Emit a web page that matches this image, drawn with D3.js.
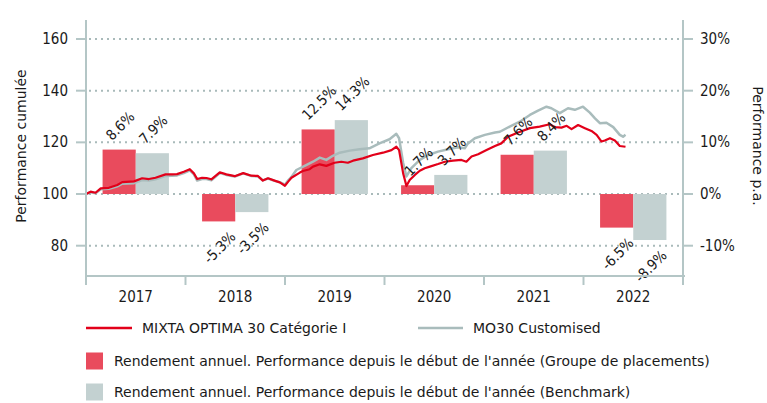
<!DOCTYPE html>
<html><head><meta charset="utf-8">
<script src="https://cdn.jsdelivr.net/npm/d3@7"></script>
<style>
html,body{margin:0;padding:0;background:#fff;}
svg{display:block;font-family:"DejaVu Sans",sans-serif;}
.cond{font-family:"DejaVu Sans Condensed","DejaVu Sans",sans-serif;font-stretch:condensed;}
</style></head>
<body><svg id="c" width="767" height="403"></svg>
<script>
const years = ["2017","2018","2019","2020","2021","2022"];
const fundAnnual = [8.6, -5.3, 12.5, 1.7, 7.6, -6.5];
const benchAnnual = [7.9, -3.5, 14.3, 3.7, 8.4, -8.9];
const leftTicks = [80, 100, 120, 140, 160];
const rightTicks = [-10, 0, 10, 20, 30];

const fundDates = ["2017-01-01","2017-01-18","2017-02-05","2017-02-24","2017-03-26","2017-04-26","2017-05-14","2017-06-26","2017-07-26","2017-08-20","2017-09-13","2017-10-20","2017-11-13","2017-12-01","2017-12-26",
"2018-01-17","2018-02-01","2018-02-13","2018-03-03","2018-03-19","2018-04-06","2018-05-07","2018-05-31","2018-07-01","2018-08-01","2018-08-31","2018-09-24","2018-10-12","2018-10-31","2018-11-24","2018-12-13",
"2019-01-01","2019-01-13","2019-01-25","2019-02-25","2019-03-08","2019-04-02","2019-04-14","2019-05-09","2019-06-02","2019-07-02","2019-07-27","2019-08-20","2019-09-08","2019-10-14","2019-11-20","2019-12-27",
"2020-01-27","2020-02-14","2020-02-24","2020-03-10","2020-03-22","2020-04-03","2020-04-22","2020-05-10","2020-05-28","2020-06-16","2020-07-16","2020-08-10","2020-09-09","2020-10-10","2020-10-28","2020-11-16","2020-12-10",
"2021-01-10","2021-02-10","2021-03-05","2021-03-30","2021-05-06","2021-06-18","2021-07-24","2021-08-30","2021-09-18","2021-10-12","2021-10-31","2021-11-18","2021-12-12",
"2022-01-06","2022-01-30","2022-02-18","2022-03-08","2022-03-20","2022-04-08","2022-04-26","2022-05-14","2022-06-04"];
const fundValues = [100,100.9,100.5,102.2,102.4,103.5,104.6,104.9,106.1,105.8,106.3,107.6,107.6,107.7,108.6,
109.6,108,105.8,106.3,106.2,105.7,108.4,107.6,106.9,108.1,107.1,107,105.2,106.1,105.2,104.5,
103.2,104.8,106.3,108.3,108.9,109.6,110.6,111.5,110.9,112.1,112.5,112.1,112.9,113.8,115.1,116,
117,118.3,117,108,103.1,105.4,107.4,109,110,110.6,111.6,112.5,112.9,113.2,112.5,114.5,115.4,
117,118.6,119.6,122.2,123.8,125.5,126.1,127,125.9,125.7,126.4,125.1,126.7,
125.5,124.4,122.9,120.3,120.7,121.6,120.7,118.6,118.3];

const benchDates = ["2017-01-01","2017-01-18","2017-02-05","2017-02-24","2017-03-26","2017-04-26","2017-05-14","2017-06-26","2017-07-26","2017-08-20","2017-09-13","2017-10-20","2017-11-13","2017-12-01","2017-12-26",
"2018-01-17","2018-02-01","2018-02-13","2018-03-03","2018-03-19","2018-04-06","2018-05-07","2018-05-31","2018-07-01","2018-08-01","2018-08-31","2018-09-24","2018-10-12","2018-10-31","2018-11-24","2018-12-13",
"2019-01-01","2019-01-13","2019-01-25","2019-02-12","2019-03-20","2019-04-14","2019-05-09","2019-06-02","2019-06-26","2019-07-21","2019-08-27","2019-10-02","2019-11-07","2019-12-14",
"2020-01-20","2020-02-14","2020-02-24","2020-03-10","2020-03-22","2020-04-09","2020-05-10","2020-06-10","2020-07-16","2020-08-22","2020-09-27","2020-10-22","2020-11-03","2020-11-28",
"2021-01-04","2021-02-10","2021-02-28","2021-04-05","2021-05-12","2021-06-18","2021-07-18","2021-08-18","2021-09-05","2021-10-06","2021-11-05","2021-11-30","2021-12-30",
"2022-01-24","2022-02-12","2022-03-02","2022-03-26","2022-04-20","2022-05-14","2022-05-26","2022-06-04"];
const benchValues = [100,100.7,100.3,101.8,102,103,104,104.2,105.4,105.2,105.7,107,107.1,107.2,108.1,
109.2,107.6,105.2,105.8,105.8,105.3,108.1,107.4,106.8,108,107,106.8,105.3,106,105.1,104.6,
103.6,105.3,106.6,109.3,111.2,112.5,114.1,113.2,114.8,116,116.8,117.3,117.7,119.6,
121.2,123.3,121.6,112,106.8,110,113.2,115.1,116.4,117.3,118.1,117.7,119.6,121.6,
122.9,123.8,124.1,126.1,128,130.6,132.3,133.8,133.2,131.3,133.2,132.6,133.8,
131.5,129.3,127.4,127.6,125.9,122.9,122.2,122.9];

const svg = d3.select("#c");
const X0 = 86, X1 = 683, YT = 39, YB = 245.7, AXY = 276;
const axisCol = "#b4c6c6", gridCol = "#a9baba", txt = "#1a1a1a";
const red = "#e2001a", grey = "#a9bcbc", barRed = "#e94b5d", barGrey = "#c3d1d1";

const parse = d3.timeParse("%Y-%m-%d");
const xT = d3.scaleTime().domain([parse("2017-01-01"), parse("2023-01-01")]).range([X0, X1]);
const xB = d3.scaleBand().domain(years).range([X0, X1]).padding(0);
const xS = d3.scaleBand().domain(["f","b"]).range([0, xB.bandwidth()]).paddingInner(0).paddingOuter(0.5);
const yL = d3.scaleLinear().domain([80,160]).range([YB, YT]);
const yR = d3.scaleLinear().domain([-10,30]).range([YB, YT]);

// grid
svg.append("g").selectAll("line").data(leftTicks).join("line")
  .attr("x1", X0+3).attr("x2", X1-1).attr("y1", d=>yL(d)).attr("y2", d=>yL(d))
  .attr("stroke", gridCol).attr("stroke-width", 2).attr("stroke-dasharray", "2,4");

// bars
const bars = svg.append("g");
years.forEach((y,i)=>{
  [["f",fundAnnual[i],barRed],["b",benchAnnual[i],barGrey]].forEach(([k,v,c])=>{
    bars.append("rect").attr("x", xB(y)+xS(k)).attr("width", xS.bandwidth())
      .attr("y", yR(Math.max(0,v))).attr("height", Math.abs(yR(v)-yR(0))).attr("fill", c);
  });
});

// lines
const line = d3.line().x(d=>xT(d[0])).y(d=>yL(d[1])).curve(d3.curveLinear);
const bench = benchDates.map((d,i)=>[parse(d), benchValues[i]]);
const fund = fundDates.map((d,i)=>[parse(d), fundValues[i]]);
svg.append("path").attr("d", line(bench)).attr("fill","none").attr("stroke", grey).attr("stroke-width", 2.5).attr("stroke-linejoin","round");
svg.append("path").attr("d", line(fund)).attr("fill","none").attr("stroke", red).attr("stroke-width", 2.2).attr("stroke-linejoin","round");

// bar labels
const lab = svg.append("g").attr("class","cond").attr("font-size", 14.5).attr("fill", txt);
years.forEach((y,i)=>{
  [["f",fundAnnual[i]],["b",benchAnnual[i]]].forEach(([k,v])=>{
    const cx = xB(y)+xS(k)+xS.bandwidth()/2 + 1;
    const t = lab.append("text").attr("text-anchor","middle").attr("dominant-baseline","central")
      .text(v.toFixed(1)+"%");
    const L = t.node().getComputedTextLength();
    const cy = v >= 0 ? yR(v) - 12 - 0.35*L : yR(v) + 13 + 0.35*L;
    t.attr("transform", `translate(${cx},${cy}) rotate(-45)`);
  });
});

// axes
const ax = svg.append("g").attr("stroke", axisCol).attr("stroke-width", 2);
ax.append("line").attr("x1", X0).attr("x2", X0).attr("y1", 20).attr("y2", 285);
ax.append("line").attr("x1", X1).attr("x2", X1).attr("y1", 20).attr("y2", 285);
ax.append("line").attr("x1", X0).attr("x2", X1+2).attr("y1", AXY).attr("y2", AXY);
leftTicks.forEach(t=>ax.append("line").attr("x1", X0-10).attr("x2", X0).attr("y1", yL(t)).attr("y2", yL(t)));
rightTicks.forEach(t=>ax.append("line").attr("x1", X1).attr("x2", X1+10).attr("y1", yR(t)).attr("y2", yR(t)));
years.concat(["end"]).forEach((y,i)=>{
  const x = X0 + i*xB.step();
  ax.append("line").attr("x1", x).attr("x2", x).attr("y1", AXY).attr("y2", 285);
});

const tx = svg.append("g").attr("class","cond").attr("font-size", 15).attr("fill", txt);
leftTicks.forEach(t=>tx.append("text").attr("x", 68).attr("y", yL(t)).attr("text-anchor","end").attr("dominant-baseline","central").text(t));
rightTicks.forEach(t=>tx.append("text").attr("x", 700).attr("y", yR(t)).attr("text-anchor","start").attr("dominant-baseline","central").text(t+"%"));
years.forEach(y=>tx.append("text").attr("x", xB(y)+xB.bandwidth()/2).attr("y", 297).attr("text-anchor","middle").attr("dominant-baseline","central").text(y));
const tt = svg.append("g").attr("font-size", 14).attr("fill", txt);
tt.append("text").attr("transform","translate(21,146) rotate(-90)").attr("text-anchor","middle").attr("dominant-baseline","central").text("Performance cumulée");
tt.append("text").attr("transform","translate(758,146) rotate(90)").attr("text-anchor","middle").attr("dominant-baseline","central").text("Performance p.a.");

// legend
const lg = svg.append("g").attr("font-size", 14).attr("fill", txt);
lg.append("line").attr("x1",86).attr("x2",132).attr("y1",328).attr("y2",328).attr("stroke",red).attr("stroke-width",2.5);
lg.append("text").attr("x",142).attr("y",328).attr("dominant-baseline","central").text("MIXTA OPTIMA 30 Catégorie I");
lg.append("line").attr("x1",418).attr("x2",463).attr("y1",328).attr("y2",328).attr("stroke",grey).attr("stroke-width",2.5);
lg.append("text").attr("x",473).attr("y",328).attr("dominant-baseline","central").text("MO30 Customised");
lg.append("rect").attr("x",86).attr("y",352.5).attr("width",17).attr("height",17).attr("fill",barRed);
lg.append("text").attr("x",114).attr("y",361).attr("dominant-baseline","central").text("Rendement annuel. Performance depuis le début de l'année (Groupe de placements)");
lg.append("rect").attr("x",86).attr("y",383.5).attr("width",17).attr("height",17).attr("fill",barGrey);
lg.append("text").attr("x",114).attr("y",392).attr("dominant-baseline","central").text("Rendement annuel. Performance depuis le début de l'année (Benchmark)");
</script></body></html>
